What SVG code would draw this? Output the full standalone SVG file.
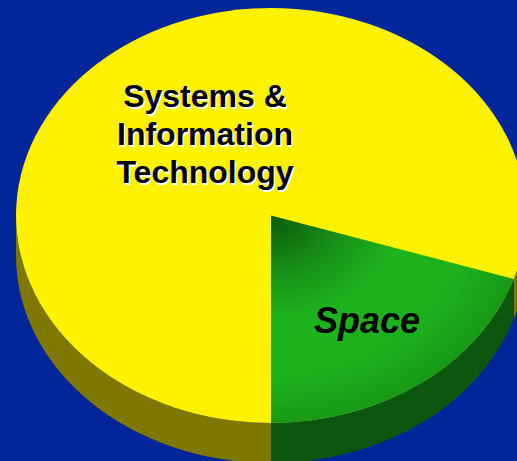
<svg xmlns="http://www.w3.org/2000/svg" width="517" height="461" viewBox="0 0 517 461">
  <style>
    .lbl { font-family: "Liberation Sans", Arial, sans-serif; font-weight: bold; fill: #000; }
    .shadow { fill: #fff; }
    .yTop { fill: #FFF200; }
    .ySide { fill: #7F7800; }
    .gSide { fill: #0D560D; }
  </style>
  <defs>
    <radialGradient id="gGrad" gradientUnits="userSpaceOnUse" cx="271" cy="215.5" r="255" gradientTransform="translate(271 215.5) scale(1 0.8137) translate(-271 -215.5)">
      <stop offset="0" stop-color="#0C5A0C"/>
      <stop offset="0.3" stop-color="#189418"/>
      <stop offset="0.5" stop-color="#1EB31E"/>
      <stop offset="0.8" stop-color="#1DB01D"/>
      <stop offset="1" stop-color="#179A17"/>
    </radialGradient>
  </defs>
  <rect width="517" height="461" fill="#00269A"/>
  <g id="slice-systems">
    <path class="ySide" d="M16,215.5 A255,207.5 0 0 0 271,423 L271,463 A255,207.5 0 0 1 16,255.5 Z"/>
    <path class="ySide" d="M526,215.5 A255,207.5 0 0 1 513.8,278.9 L513.8,318.9 A255,207.5 0 0 0 526,255.5 Z"/>
    <ellipse class="yTop" cx="271" cy="215.5" rx="255" ry="207.5"/>
    <g class="lbl" font-size="32" text-anchor="middle">
      <g class="shadow" transform="translate(1.5 1.5)">
        <text x="205" y="107">Systems &amp;</text>
        <text x="205" y="145">Information</text>
        <text x="205" y="183">Technology</text>
      </g>
      <text x="205" y="107">Systems &amp;</text>
      <text x="205" y="145">Information</text>
      <text x="205" y="183">Technology</text>
    </g>
  </g>
  <g id="slice-space">
    <path class="gSide" d="M513.8,278.9 A255,207.5 0 0 1 271,423 L271,463 A255,207.5 0 0 0 513.8,318.9 Z"/>
    <path fill="url(#gGrad)" d="M271,215.5 L513.8,278.9 A255,207.5 0 0 1 271,423 Z"/>
    <text class="lbl" x="367" y="333" font-size="36" font-style="italic" text-anchor="middle">Space</text>
  </g>
</svg>
